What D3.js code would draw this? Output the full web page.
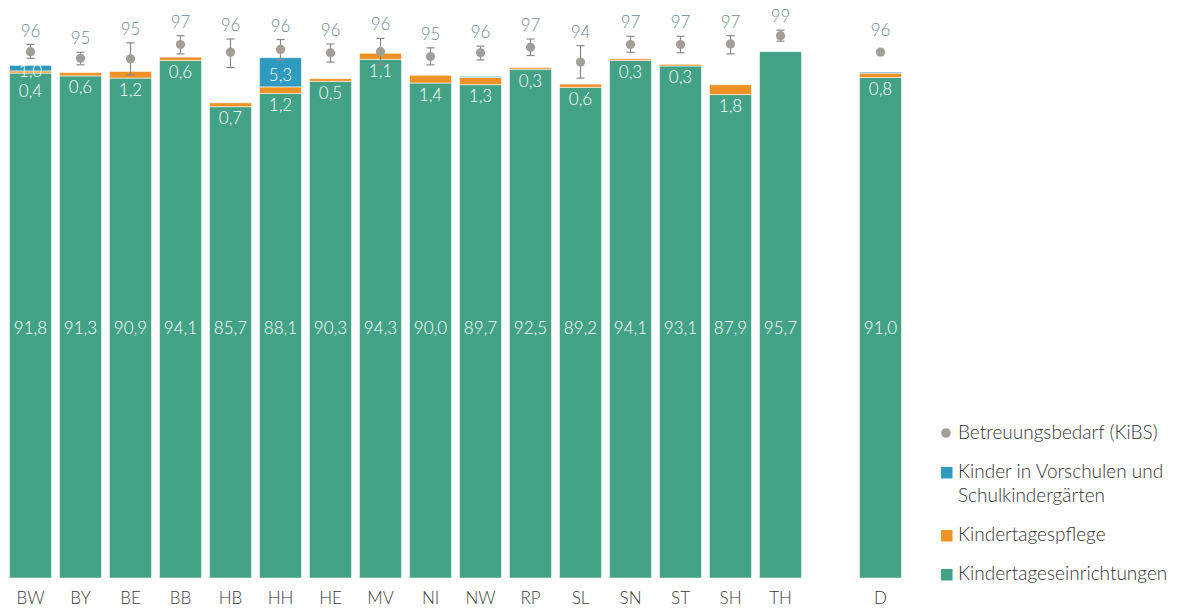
<!DOCTYPE html>
<html>
<head>
<meta charset="utf-8">
<script src="https://d3js.org/d3.v7.min.js"></script>
<style>
  body { margin: 0; background: #fff; }
  svg text { font-family: "Source Sans Pro", "Lato", "Open Sans", sans-serif; font-weight: 300; }
</style>
</head>
<body>
<svg width="1180" height="616"></svg>
<script>

// Bundesländer + Deutschland (empty slot between TH and D)
var laender = ["BW","BY","BE","BB","HB","HH","HE","MV","NI","NW","RP","SL","SN","ST","SH","TH","","D"];

var einrichtungen = [91.8, 91.3, 90.9, 94.1, 85.7, 88.1, 90.3, 94.3, 90.0, 89.7, 92.5, 89.2, 94.1, 93.1, 87.9, 95.7, null, 91.0];
var tagespflege   = [0.4, 0.6, 1.2, 0.6, 0.7, 1.2, 0.5, 1.1, 1.4, 1.3, 0.3, 0.6, 0.3, 0.3, 1.8, 0, null, 0.8];
var vorschulen    = [1.0, 0, 0, 0, 0, 5.3, 0, 0, 0, 0.2, 0, 0, 0, 0, 0, 0, null, 0.2];

// Betreuungsbedarf (KiBS) with confidence interval
var bedarf      = [95.7, 94.5, 94.4, 97.0, 95.6, 96.1, 95.5, 95.7, 94.8, 95.5, 96.5, 93.8, 97.0, 97.0, 97.1, 98.6, null, 95.6];
var bedarfLow   = [94.5, 93.3, 91.5, 95.3, 92.8, 94.2, 93.8, 93.3, 93.3, 94.2, 95.0, 90.9, 95.6, 95.5, 95.3, 97.6, null, null];
var bedarfHigh  = [97.0, 95.6, 97.3, 98.6, 98.0, 97.9, 97.1, 98.1, 96.4, 96.7, 98.0, 96.8, 98.5, 98.5, 98.6, 99.6, null, null];
var bedarfLabel = [96, 95, 95, 97, 96, 96, 96, 96, 95, 96, 97, 94, 97, 97, 97, 99, null, 96];

var legendItems = [
  {type: "dot",  color: "#a39d98", lines: ["Betreuungsbedarf (KiBS)"]},
  {type: "rect", color: "#2e9ac0", lines: ["Kinder in Vorschulen und", "Schulkindergärten"]},
  {type: "rect", color: "#ee9226", lines: ["Kindertagespflege"]},
  {type: "rect", color: "#43a285", lines: ["Kindertageseinrichtungen"]}
];

var svg = d3.select("svg");

var fmt = function(v) { return d3.format(".1f")(v).replace(".", ","); };

var x = d3.scaleBand()
    .domain(laender)
    .range([5.5, 905.5])
    .paddingInner(0.16)
    .paddingOuter(0.08);

var y = d3.scaleLinear()
    .domain([0, 100])
    .range([578, 28]);

var green = "#43a285", orange = "#ee9226", blue = "#2e9ac0";

var rows = laender.map(function(k, i) {
  return {k: k, e: einrichtungen[i], t: tagespflege[i], v: vorschulen[i],
          b: bedarf[i], lo: bedarfLow[i], hi: bedarfHigh[i], lab: bedarfLabel[i]};
}).filter(function(d) { return d.k !== ""; });

var bars = svg.append("g");

rows.forEach(function(d) {
  var segs = [
    {y0: 0, y1: d.e, c: green},
    {y0: d.e, y1: d.e + d.t, c: orange},
    {y0: d.e + d.t, y1: d.e + d.t + d.v, c: blue}
  ];
  segs.forEach(function(s) {
    if (s.y1 - s.y0 <= 0) return;
    bars.append("rect")
      .attr("x", x(d.k))
      .attr("width", x.bandwidth())
      .attr("y", y(s.y1))
      .attr("height", y(s.y0) - y(s.y1))
      .attr("fill", s.c)
      .attr("stroke", "rgba(255,255,255,0.55)")
      .attr("stroke-width", 1);
  });
});

// value labels inside bars
var labels = svg.append("g")
    .attr("fill", "#fff")
    .attr("font-size", 17)
    .attr("text-anchor", "middle")
    .attr("dominant-baseline", "central");

rows.forEach(function(d) {
  var cx = x(d.k) + x.bandwidth() / 2;
  labels.append("text").attr("x", cx).attr("y", y(45.5)).text(fmt(d.e));
  var blueY = null;
  if (d.v >= 1) {
    blueY = (y(d.e + d.t) + y(d.e + d.t + d.v)) / 2 + 2;
    labels.append("text").attr("x", cx).attr("y", blueY).text(fmt(d.v));
  }
  if (d.t > 0) {
    var ty = y(d.e) + 11;
    if (blueY != null) ty = Math.max(ty, blueY + 20);
    labels.append("text").attr("x", cx).attr("y", ty).text(fmt(d.t));
  }
});

// Betreuungsbedarf: whiskers, dots, labels
var dots = svg.append("g");

rows.forEach(function(d) {
  var cx = x(d.k) + x.bandwidth() / 2;
  if (d.lo != null) {
    dots.append("line")
      .attr("x1", cx).attr("x2", cx)
      .attr("y1", y(d.lo)).attr("y2", y(d.hi))
      .attr("stroke", "#8f8984").attr("stroke-width", 1.2);
    [d.lo, d.hi].forEach(function(v) {
      dots.append("line")
        .attr("x1", cx - 4).attr("x2", cx + 4)
        .attr("y1", y(v)).attr("y2", y(v))
        .attr("stroke", "#8f8984").attr("stroke-width", 1.2);
    });
  }
  dots.append("circle")
    .attr("cx", cx).attr("cy", y(d.b))
    .attr("r", 4.6)
    .attr("fill", "#a39d98");
  var top = d.hi != null ? y(d.hi) - 8 : y(d.b) - 16;
  dots.append("text")
    .attr("x", cx).attr("y", top)
    .attr("text-anchor", "middle")
    .attr("font-size", 17)
    .attr("fill", "#6f8a96")
    .text(d.lab);
});

// x axis labels
var axis = svg.append("g")
    .attr("transform", "translate(0,578)")
    .call(d3.axisBottom(x).tickSize(0).tickPadding(14));
axis.select(".domain").remove();
axis.selectAll("text")
    .attr("font-size", 17)
    .attr("fill", "#3a3a3a")
    .attr("font-family", null);

// legend
var legend = svg.append("g").attr("transform", "translate(941,0)");
var ly = [439, 478, 541, 580];

legendItems.forEach(function(it, i) {
  var g = legend.append("g").attr("transform", "translate(0," + ly[i] + ")");
  if (it.type === "dot") {
    g.append("circle").attr("cx", 5).attr("cy", -6).attr("r", 4.8).attr("fill", it.color);
  } else {
    g.append("rect").attr("x", 0).attr("y", -11).attr("width", 11.5).attr("height", 11.5).attr("fill", it.color);
  }
  it.lines.forEach(function(t, j) {
    g.append("text")
      .attr("x", 17)
      .attr("y", j * 24)
      .attr("font-size", 19)
      .attr("fill", "#333")
      .text(t);
  });
});

</script>
</body>
</html>
